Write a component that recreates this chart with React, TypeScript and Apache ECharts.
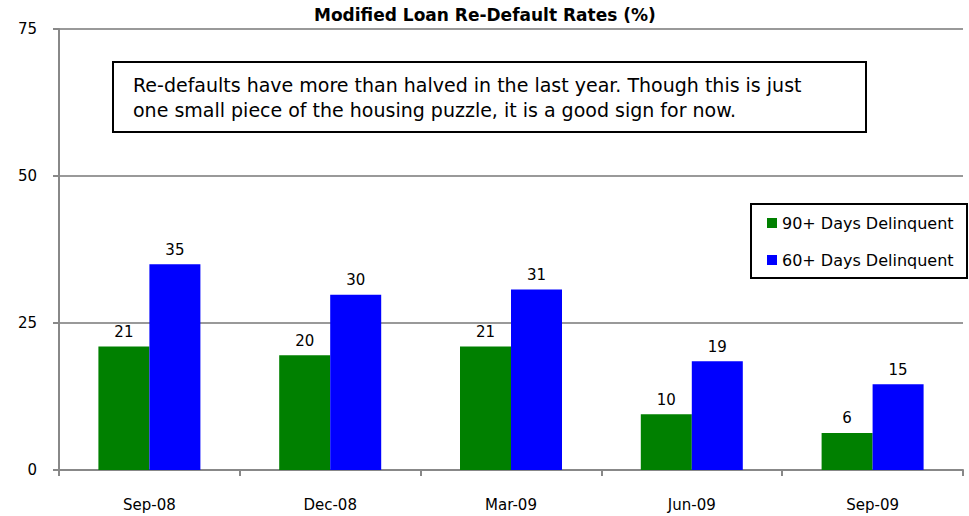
import React, { useEffect, useRef } from "react";
import * as echarts from "echarts";

const categories = ["Sep-08", "Dec-08", "Mar-09", "Jun-09", "Sep-09"];
const delinquent90 = [21.0, 19.5, 21.0, 9.5, 6.3];
const delinquent60 = [35.0, 29.8, 30.7, 18.5, 14.6];
const seriesNames = ["90+ Days Delinquent", "60+ Days Delinquent"];
const chartTitle = "Modified Loan Re-Default Rates (%)";
const noteLines = [
  "Re-defaults have more than halved in the last year. Though this is just",
  "one small piece of the housing puzzle, it is a good sign for now.",
];

const FONT = "DejaVu Sans";

export default function App() {
  const ref = useRef<HTMLDivElement>(null);
  useEffect(() => {
    if (!ref.current) return;
    const chart = echarts.init(ref.current, undefined, { renderer: "svg" });
    const label = {
      show: true,
      position: "top",
      distance: 7,
      color: "#000",
      fontFamily: FONT,
      fontSize: 15,
      formatter: (p: any) => String(Math.round(p.value)),
    };
    chart.setOption({
      animation: false,
      backgroundColor: "#fff",
      textStyle: { fontFamily: FONT },
      title: {
        text: chartTitle,
        left: 314,
        top: 6,
        padding: 0,
        textStyle: { fontFamily: FONT, fontSize: 17, fontWeight: "bold", color: "#000" },
      },
      grid: { left: 59, right: 6, top: 29, bottom: 46, containLabel: false },
      legend: {
        orient: "vertical",
        left: 767,
        top: 214,
        padding: 0,
        itemGap: 19,
        itemWidth: 10,
        itemHeight: 10,
        icon: "rect",
        data: seriesNames,
        textStyle: { fontFamily: FONT, fontSize: 16, color: "#000", lineHeight: 18 },
      },
      xAxis: {
        type: "category",
        data: categories,
        axisLine: { lineStyle: { color: "#888", width: 2 } },
        axisTick: { show: true, length: 6, lineStyle: { color: "#888", width: 2 } },
        axisLabel: { color: "#000", fontFamily: FONT, fontSize: 15, margin: 27 },
      },
      yAxis: {
        type: "value",
        min: 0,
        max: 75,
        interval: 25,
        axisLine: { show: true, lineStyle: { color: "#888", width: 2 } },
        axisTick: { show: true, length: 6, lineStyle: { color: "#888", width: 2 } },
        axisLabel: { color: "#000", fontFamily: FONT, fontSize: 15, margin: 22 },
        splitLine: { show: true, lineStyle: { color: "#999", width: 2 } },
      },
      series: [
        {
          name: seriesNames[0],
          type: "bar",
          data: delinquent90,
          barWidth: 51,
          barGap: "0%",
          itemStyle: { color: "#008000" },
          label,
        },
        {
          name: seriesNames[1],
          type: "bar",
          data: delinquent60,
          barWidth: 51,
          barGap: "0%",
          itemStyle: { color: "#0000FF" },
          label,
        },
      ],
      graphic: [
        {
          type: "rect",
          shape: { x: 113, y: 62, width: 753, height: 70 },
          style: { fill: "#fff", stroke: "#000", lineWidth: 2 },
          z: 10,
        },
        {
          type: "text",
          x: 133,
          y: 85,
          z: 11,
          style: {
            text: noteLines[0],
            fontFamily: FONT,
            fontSize: 19,
            fill: "#000",
            verticalAlign: "middle",
          },
        },
        {
          type: "text",
          x: 133,
          y: 110,
          z: 11,
          style: {
            text: noteLines[1],
            fontFamily: FONT,
            fontSize: 19,
            fill: "#000",
            verticalAlign: "middle",
          },
        },
        {
          type: "rect",
          shape: { x: 751, y: 204, width: 216, height: 74 },
          style: { fill: "none", stroke: "#000", lineWidth: 2 },
          z: 10,
        },
      ],
    });
    return () => chart.dispose();
  }, []);
  return <div ref={ref} style={{ width: 969, height: 516, position: "absolute", left: 0, top: 0 }} />;
}
